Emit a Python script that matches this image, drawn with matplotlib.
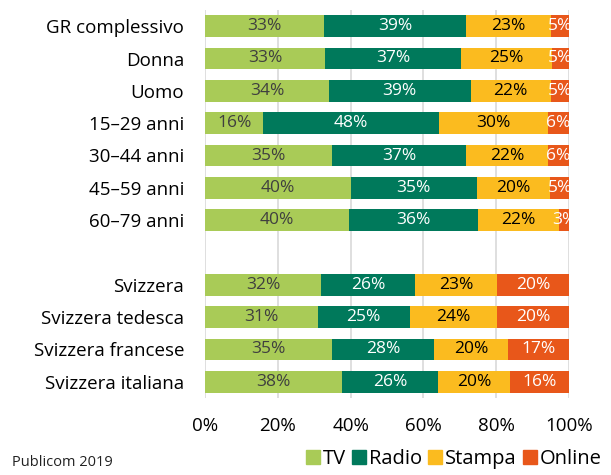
import numpy as np
import matplotlib
matplotlib.use("Agg")
import matplotlib.pyplot as plt
from matplotlib.patches import Patch

plt.rcParams["font.family"] = ["Open Sans", "DejaVu Sans"]

CATEGORIES = ["GR complessivo", "Donna", "Uomo", "15–29 anni", "30–44 anni",
              "45–59 anni", "60–79 anni", "",
              "Svizzera", "Svizzera tedesca", "Svizzera francese", "Svizzera italiana"]
TV     = [32.6, 33.0, 34.0, 16.0, 35.0, 40.0, 39.6, None, 31.9, 31.0, 35.0, 37.7]
RADIO  = [39.2, 37.2, 39.0, 48.3, 36.8, 34.6, 35.5, None, 25.8, 25.2, 28.0, 26.2]
STAMPA = [23.2, 25.0, 22.0, 29.9, 22.4, 20.3, 22.2, None, 22.6, 24.0, 20.2, 20.0]
ONLINE = [5.0, 4.8, 5.0, 5.8, 5.8, 5.1, 2.7, None, 19.7, 19.8, 16.8, 16.1]
SERIES = ["TV", "Radio", "Stampa", "Online"]
COLORS = ["#a9cb57", "#00795b", "#fbbb1f", "#e8571a"]
TXT    = ["#3f3f3f", "white", "black", "white"]

fig = plt.figure(figsize=(6.11, 4.75), dpi=100)
ax = fig.add_axes([205 / 611, 1 - 398 / 475, 364 / 611, 388 / 475])

y = np.arange(len(CATEGORIES))
left = np.zeros(len(CATEGORIES))
for vals, col, tc in zip([TV, RADIO, STAMPA, ONLINE], COLORS, TXT):
    v = np.array([np.nan if a is None else a for a in vals])
    vv = np.nan_to_num(v)
    ax.barh(y, vv, left=left, height=0.68, color=col, zorder=3)
    for i, a in enumerate(v):
        if np.isnan(a):
            continue
        ax.text(left[i] + a / 2, y[i], f"{round(a):.0f}%", ha="center", va="center",
                color=tc, fontsize=12.5, zorder=4)
    left += vv

ax.set_xlim(0, 100)
ax.set_ylim(len(CATEGORIES) - 0.5, -0.5)
ax.set_yticks(y)
ax.set_yticklabels(CATEGORIES, fontsize=13.5)
ax.set_xticks(range(0, 101, 20))
ax.set_xticklabels([f"{t}%" for t in range(0, 101, 20)], fontsize=13.5)
ax.tick_params(length=0, pad=15)
ax.tick_params(axis="x", pad=14)
ax.xaxis.grid(True, color="#d9d9d9", linewidth=1.2, zorder=0)
for s in ax.spines.values():
    s.set_visible(False)

handles = [Patch(color=c, label=s) for s, c in zip(SERIES, COLORS)]
fig.legend(handles=handles, loc="lower right", bbox_to_anchor=(1.015, -0.025), ncol=4,
           frameon=False, fontsize=14.5, handlelength=0.7, handleheight=0.7,
           handletextpad=0.15, columnspacing=0.3)
fig.text(12 / 611, 1 - 463 / 475, "Publicom 2019", fontsize=10.5, color="#222222",
         va="center")

fig.savefig("out.png", dpi=100)
